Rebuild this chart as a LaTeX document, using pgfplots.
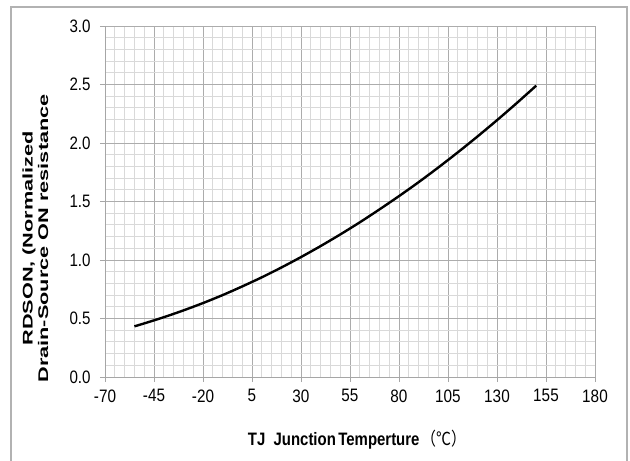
\documentclass[border=0pt]{standalone}
\usepackage{fontspec}
\setmainfont{Liberation Sans}
\newfontfamily\cjk{Noto Sans CJK SC}
\usepackage{pgfplots}
\pgfplotsset{compat=1.18}
\begin{document}
\begin{tikzpicture}[x=1pt,y=1pt]
\path[use as bounding box] (0,0) rectangle (630,461);
\draw[gray!60,line width=1.5pt] (11,-2) -- (11,454) -- (627,454) -- (627,-2);
\begin{axis}[
  at={(105pt,84pt)}, anchor=south west,
  scale only axis, width=490pt, height=351pt,
  xmin=-70, xmax=180, ymin=0, ymax=3,
  xtick={-70,-45,...,180},
  ytick={0,0.5,...,3},
  minor x tick num=4, minor y tick num=4,
  grid=both,
  major grid style={gray!65, line width=0.8pt},
  minor grid style={gray!30, line width=0.8pt},
  axis line style={gray!70, line width=0.8pt},
  axis x line*=bottom, axis y line*=left,
  tick style={gray!70, line width=0.8pt},
  major tick length=5pt, minor tick length=0pt,
  tick align=outside,
  /pgf/number format/assume math mode=true,
  /pgf/number format/fixed, /pgf/number format/fixed zerofill,
  yticklabel style={/pgf/number format/precision=1, font=\fontsize{18}{18}\selectfont, xscale=0.84, inner sep=1pt, xshift=-10pt},
  xticklabel style={font=\fontsize{18}{18}\selectfont, xscale=0.85, yshift=-4pt},
  xticklabel={\pgfmathprintnumber[int detect]{\tick}},
  xlabel={\fontsize{18}{18}\selectfont\bfseries TJ\ \ Junction\hspace{3pt}Temperture\,{\cjk\mdseries （℃）}},
  xlabel style={at={(axis description cs:0.515,-0.178)}, anchor=center, xscale=0.83},
  ylabel={\scalebox{1.55}[1]{RDSON, (Normalized}\\\scalebox{1.55}[1]{Drain-Source ON resistance}},
  ylabel style={at={(axis description cs:-0.142,0.395)}, anchor=center, align=center, font=\fontsize{14}{15.5}\selectfont\bfseries},
]
\addplot[black, line width=2.4pt, smooth] coordinates {
(-55,0.433) (-50,0.458) (-40,0.511) (-30,0.569) (-20,0.632) (-10,0.700) (0,0.774) (10,0.852) (20,0.936) (30,1.025) (40,1.119) (50,1.218) (60,1.322) (70,1.432) (80,1.546) (90,1.665) (100,1.790) (110,1.920) (120,2.055) (130,2.195) (140,2.340) (150,2.490)
};
\end{axis}
\end{tikzpicture}
\end{document}
